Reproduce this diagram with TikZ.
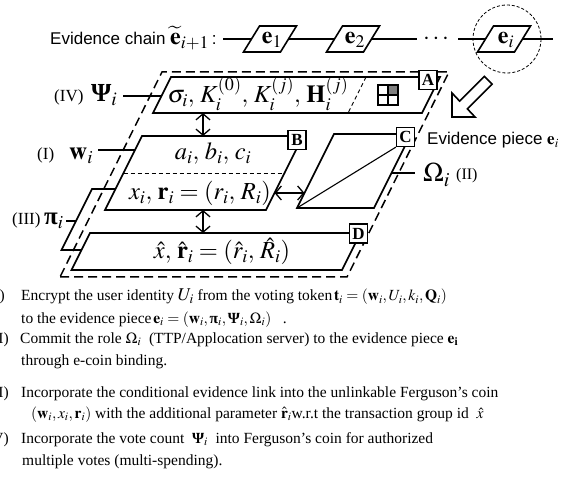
\documentclass[tikz,border=0pt]{standalone}
\usepackage{mathptmx}
\usepackage{bm}
\usepackage[no-math]{fontspec}
\setmainfont{Liberation Serif}
\setsansfont{Liberation Sans}
\usetikzlibrary{arrows.meta}
\newcommand{\bgr}[1]{\mbox{\bfseries #1}}
\tikzset{
  layer/.style={line width=1.6pt, line join=miter},
  outer/.style={line width=1.5pt, dash pattern=on 9pt off 5pt},
  thindash/.style={line width=0.9pt, dash pattern=on 4pt off 3pt},
  lbox/.style={draw, line width=1.3pt, fill=white, minimum width=18pt, minimum height=19pt, inner sep=0pt, font=\fontsize{17}{17}\selectfont\bfseries},
  dbl/.style={line width=1.3pt, {Straight Barb[length=6pt,width=14pt]}-{Straight Barb[length=6pt,width=14pt]}},
  chain/.style={line width=1.5pt},
  bigmath/.style={inner sep=0pt, font=\fontsize{24.5}{27}\selectfont},
  sans/.style={inner sep=0pt, font=\fontsize{17}{20}\selectfont\sffamily},
  tag/.style={inner sep=0pt, font=\fontsize{17}{20}\selectfont},
  body/.style={inner sep=0pt, font=\fontsize{15.5}{18}\selectfont},
  ebox/.pic={
    \draw[layer] (-26.5,13) -- (-10.5,-13) -- (26.5,-13) -- (10.5,13) -- cycle;
    \coordinate (-w) at (-18.5,0);
    \coordinate (-e) at (18.5,0);
  }
}
\begin{document}
\begin{tikzpicture}[x=1pt,y=-1pt]
\useasboundingbox (0,0) rectangle (586,486);
\clip (0,0) rectangle (586,486);

% ---- evidence chain ----
\node[sans, anchor=base west] (chainlbl) at (50,45) {Evidence chain {\fontsize{24}{24}\selectfont$\widetilde{\mathbf{e}}_{i+1}$}\,:};
\coordinate (c0) at (223,39);
\pic (e1) at (270,39) {ebox};
\pic (e2) at (353,39) {ebox};
\pic (ei) at (504,39) {ebox};
\node[bigmath, font=\fontsize{24}{26}\selectfont] (e1t) at (272,40) {$\mathbf{e}_1$};
\node[bigmath, font=\fontsize{24}{26}\selectfont] (e2t) at (355,40) {$\mathbf{e}_2$};
\node[bigmath, font=\fontsize{24}{26}\selectfont] (eit) at (506,40) {$\mathbf{e}_i$};
\node[bigmath] (dots) at (436,39) {$\cdots$};
\coordinate (c1) at (417,39);
\coordinate (c2) at (458,39);
\coordinate (c3) at (553,39);
\draw[chain] (c0) -- (e1-w);
\draw[chain] (e1-e) -- (e2-w);
\draw[chain] (e2-e) -- (c1);
\draw[chain] (c2) -- (ei-w);
\draw[chain] (ei-e) -- (c3);
\draw[line width=0.8pt, dash pattern=on 3pt off 2pt] (507,39) circle (34);

% ---- hollow arrow ----
\draw[line width=1.6pt, line join=miter] (452,117) -- (452,93) -- (459.6,101.1) -- (484.3,76.4) -- (492.1,84.2) -- (467.4,108.9) -- (475,117) -- cycle;
\node[sans, anchor=base west] (piece) at (427,145) {Evidence piece {\rmfamily$\mathbf{e}_i$}};

% ---- outer dashed boundary ----
\draw[outer] (60,277) -- (347,277) -- (449,72) -- (162,72) -- cycle;

% ---- layer IV ----
\draw[layer] (171,77) -- (440,77) -- (422,113) -- (153,113) -- cycle;
\draw[thindash] (366,77) -- (348,113);
\node[bigmath, anchor=base] (ivtxt) at (258,103) {$\sigma_i,\, K_i^{(0)},\, K_i^{(j)},\, \mathbf{H}_i^{(j)}$};
\fill[black!50] (388,85) rectangle (398,95);
\draw[line width=1.2pt] (378,85) rectangle (398,105) (388,85) -- (388,105) (378,95) -- (398,95);
\node[lbox] (A) at (428,80) {A};

% ---- layer I ----
\draw[layer] (142,136) -- (303,136) -- (266,210) -- (105,210) -- cycle;
\draw[thindash] (123.5,173) -- (284.5,173);
\node[bigmath, anchor=base] (abc) at (213,160) {$a_i,\, b_i,\, c_i$};
\node[bigmath, anchor=base] (xr) at (200,200) {$x_i,\, \mathbf{r}_i = (r_i,\, R_i)$};
\node[lbox] (B) at (297,140) {B};

% ---- layer C (II) ----
\draw[layer] (334,134) -- (411,134) -- (374,208) -- (297,208) -- cycle;
\node[lbox] (C) at (405.5,137) {C};
\coordinate (cbl) at (297,208);
\draw[line width=1.1pt] (cbl) -- (C.south west);

% ---- layer D ----
\draw[layer] (90,233) -- (360.5,233) -- (342,270) -- (71.5,270) -- cycle;
\node[bigmath, anchor=base] (hat) at (222,259) {$\hat{x},\, \hat{\mathbf{r}}_i = (\hat{r}_i,\, \hat{R}_i)$};
\node[lbox] (D) at (358.5,233.5) {D};

% ---- strip III ----
\draw[layer] (115.5,189) -- (92,189) -- (61.5,250) -- (81.5,250);

% ---- double arrows ----
\coordinate (a1) at (203,113);
\coordinate (a2) at (203,136);
\coordinate (a3) at (203,210);
\coordinate (a4) at (203,233);
\coordinate (h1) at (274.5,193);
\coordinate (h2) at (304.5,193);
\draw[dbl] (a1) -- (a2);
\draw[dbl] (a3) -- (a4);
\draw[dbl] (h1) -- (h2);

% ---- left labels ----
\node[tag, anchor=base west] (ivl) at (54,102) {(IV)};
\node[inner sep=0pt, anchor=base west, font=\fontsize{26}{27}\selectfont] (psi) at (91,102) {$\bgr{Ψ}_i$};
\coordinate (psiA) at (123,96);
\coordinate (psiB) at (161.5,96);
\draw[layer] (psiA) -- (psiB);

\node[tag, anchor=base west] (il) at (37,160) {(I)};
\node[inner sep=0pt, anchor=base west, font=\fontsize{25}{26}\selectfont] (w) at (69,160) {$\mathbf{w}_i$};
\coordinate (wA) at (98,150);
\coordinate (wB) at (135,150);
\draw[layer] (wA) -- (wB);

\node[tag, anchor=base west] (iiil) at (12,225) {(III)};
\node[inner sep=0pt, anchor=base west, font=\fontsize{25}{26}\selectfont] (pi) at (44,225) {$\bgr{π}_i$};
\coordinate (piA) at (66,221);
\coordinate (piB) at (76,221);
\draw[layer] (piA) -- (piB);

\node[inner sep=0pt, anchor=base west, font=\fontsize{27}{28}\selectfont] (om) at (423,182) {$\Omega_i$};
\node[tag, anchor=base west, font=\fontsize{16}{18}\selectfont] (iil) at (456,180) {(II)};
\coordinate (omA) at (391.5,173);
\coordinate (omB) at (415,173);
\draw[layer] (omA) -- (omB);

% ---- bottom text ----
\node[body, anchor=base east] (n1) at (5,301) {(I)};
\node[body, anchor=base west] (t1) at (21,301) {Encrypt the user identity {\fontsize{18}{18}\selectfont$U_i$} from the voting token$\,\mathbf{t}_i = (\mathbf{w}_i, U_i, k_i, \mathbf{Q}_i)$};
\node[body, anchor=base west] (t2) at (21,323) {to the evidence piece$\,\mathbf{e}_i = (\mathbf{w}_i, \bgr{π}_i, \bgr{Ψ}_i, \Omega_i)$ \ \ .};
\node[body, anchor=base east] (n3) at (9,343) {(II)};
\node[body, anchor=base west] (t3) at (20,343) {Commit the role $\Omega_i$ \ (TTP/Applocation server) to the evidence piece $\mathbf{e}_\mathbf{i}$};
\node[body, anchor=base west] (t4) at (21,365) {through e-coin binding.};
\node[body, anchor=base east] (n5) at (9,397) {(III)};
\node[body, anchor=base west] (t5) at (21,397) {Incorporate the conditional evidence link into the unlinkable Ferguson's coin};
\node[body, anchor=base west] (t6) at (31,418) {$(\mathbf{w}_i, x_i, \mathbf{r}_i)$ with the additional parameter $\hat{\mathbf{r}}_i$w.r.t the transaction group id \ $\hat{x}$};
\node[body, anchor=base east] (n7) at (9,443) {(IV)};
\node[body, anchor=base west] (t7) at (21,443) {Incorporate the vote count \ $\bgr{Ψ}_i$ \ into Ferguson's coin for authorized};
\node[body, anchor=base west] (t8) at (22,465) {multiple votes (multi-spending).};
\end{tikzpicture}
\end{document}
